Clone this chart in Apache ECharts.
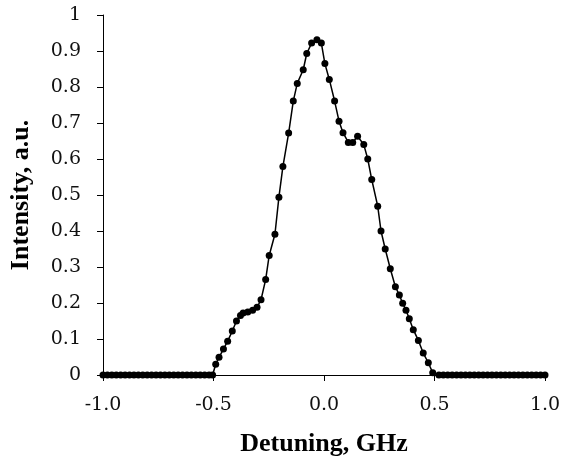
<!DOCTYPE html>
<html>
<head>
<meta charset="utf-8">
<script src="https://cdn.jsdelivr.net/npm/echarts@6/dist/echarts.min.js"></script>
<style>
html,body{margin:0;padding:0;background:#fff;}
#chart{width:565px;height:462px;}
</style>
</head>
<body>
<div id="chart"></div>
<script>
// Detuning (GHz) values of each measured point
var detuning = [
  -1.00,-0.98,-0.96,-0.94,-0.92,-0.90,-0.88,-0.86,-0.84,-0.82,
  -0.80,-0.78,-0.76,-0.74,-0.72,-0.70,-0.68,-0.66,-0.64,-0.62,
  -0.60,-0.58,-0.56,-0.54,-0.52,
  -0.504,-0.490,-0.475,-0.455,-0.436,-0.415,-0.396,-0.378,-0.366,-0.345,
  -0.323,-0.303,-0.285,-0.264,-0.248,-0.222,-0.204,-0.186,-0.160,-0.139,
  -0.121,-0.094,-0.078,-0.056,-0.032,-0.012,0.004,0.024,0.048,0.068,
  0.086,0.110,0.130,0.152,0.180,0.198,0.216,0.243,0.258,0.277,
  0.300,0.323,0.341,0.356,0.371,0.386,0.404,0.427,0.449,0.472,
  0.492,
  0.52,0.54,0.56,0.58,0.60,0.62,0.64,0.66,0.68,0.70,
  0.72,0.74,0.76,0.78,0.80,0.82,0.84,0.86,0.88,0.90,
  0.92,0.94,0.96,0.98,1.00
];
// Intensity (a.u.) of each measured point
var intensity = [
  0,0,0,0,0,0,0,0,0,0,
  0,0,0,0,0,0,0,0,0,0,
  0,0,0,0,0,
  0.000,0.030,0.049,0.072,0.094,0.122,0.150,0.165,0.172,0.175,
  0.180,0.188,0.209,0.265,0.332,0.391,0.494,0.579,0.672,0.761,
  0.810,0.848,0.893,0.922,0.931,0.922,0.865,0.821,0.761,0.705,
  0.673,0.646,0.646,0.663,0.640,0.600,0.543,0.469,0.400,0.350,
  0.295,0.245,0.222,0.199,0.180,0.156,0.126,0.096,0.061,0.034,
  0.006,
  0,0,0,0,0,0,0,0,0,0,
  0,0,0,0,0,0,0,0,0,0,
  0,0,0,0,0
];
var xTickLabels = ["-1.0","-0.5","0.0","0.5","1.0"];
var yTickLabels = ["0","0.1","0.2","0.3","0.4","0.5","0.6","0.7","0.8","0.9","1"];

var points = detuning.map(function(x,i){ return [x, intensity[i]]; });

var chart = echarts.init(document.getElementById('chart'), null, {renderer:'canvas'});
chart.setOption({
  animation:false,
  backgroundColor:'#ffffff',
  grid:{left:100, right:20, top:15, bottom:83, containLabel:false},
  xAxis:{
    type:'value', min:-1, max:1, interval:0.5,
    name:'Detuning, GHz', nameLocation:'middle', nameGap:56,
    nameTextStyle:{fontFamily:'Liberation Serif', fontWeight:'bold', fontSize:26, color:'#000'},
    axisLine:{show:true, onZero:false, lineStyle:{color:'#000', width:1}},
    axisTick:{show:true, inside:false, length:6, lineStyle:{color:'#000', width:1}},
    axisLabel:{
      margin:21, fontFamily:'DejaVu Serif', fontSize:19, color:'#111',
      formatter:function(v){ var i=Math.round((v+1)/0.5); return xTickLabels[i]; }
    },
    splitLine:{show:false}
  },
  yAxis:{
    type:'value', min:0, max:1, interval:0.1,
    name:'Intensity, a.u.', nameLocation:'middle', nameGap:69, nameRotate:90,
    nameTextStyle:{fontFamily:'Liberation Serif', fontWeight:'bold', fontSize:26, color:'#000'},
    axisLine:{show:true, onZero:false, lineStyle:{color:'#000', width:1}},
    axisTick:{show:true, inside:false, length:6, lineStyle:{color:'#000', width:1}},
    axisLabel:{
      margin:22, fontFamily:'DejaVu Serif', fontSize:19, color:'#111',
      formatter:function(v){ var i=Math.round(v*10); return yTickLabels[i]; }
    },
    splitLine:{show:false}
  },
  series:[{
    type:'line',
    data:points,
    symbol:'circle',
    symbolSize:7,
    showSymbol:true,
    itemStyle:{color:'#000'},
    lineStyle:{color:'#000', width:1.5},
    clip:false
  }]
});
</script>
</body>
</html>
